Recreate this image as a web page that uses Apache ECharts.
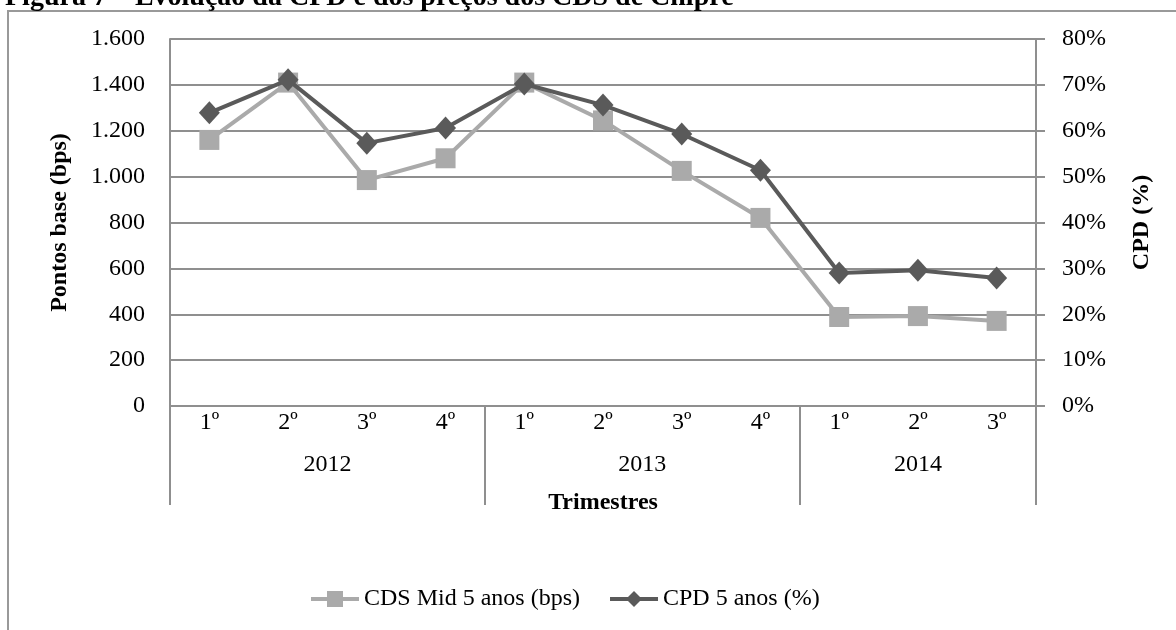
<!DOCTYPE html>
<html>
<head>
<meta charset="utf-8">
<script src="https://cdn.jsdelivr.net/npm/echarts@6/dist/echarts.min.js"></script>
<style>
  html, body { margin: 0; padding: 0; background: #fff; }
  #chart { width: 1176px; height: 630px; }
</style>
</head>
<body>
<div id="chart"></div>
<script>
// Quarter labels and the year groups they belong to
const quarters = ['1º', '2º', '3º', '4º', '1º', '2º', '3º', '4º', '1º', '2º', '3º'];
const years = ['2012', '2013', '2014'];
const quartersPerYear = [4, 4, 3];

// CDS mid 5-year spread, basis points
const cdsMid = [1160, 1410, 985, 1080, 1410, 1245, 1025, 820, 388, 392, 371];
// Cumulative probability of default, 5 years, percent
const cpd = [63.9, 71.1, 57.3, 60.6, 70.2, 65.6, 59.3, 51.4, 29.0, 29.6, 27.9];

// Left axis ticks (bps) and right axis ticks (%)
const bpsMax = 1600, bpsStep = 200;
const pctMax = 80, pctStep = 10;

const FONT = '"Liberation Serif", serif';
const FS = 24;
const GRID_COLOR = '#8f8f8f';
const LIGHT = '#aaaaaa';
const DARK = '#5a5a5a';

// Year separators and label centres on a 0..N quarter scale
const yearBounds = [0];
quartersPerYear.forEach(n => yearBounds.push(yearBounds[yearBounds.length - 1] + n));
const yearCentres = years.map((y, i) => (yearBounds[i] + yearBounds[i + 1]) / 2);

const chart = echarts.init(document.getElementById('chart'), null, { renderer: 'canvas' });

chart.setOption({
  animation: false,
  backgroundColor: '#fff',
  title: {
    text: 'Figura 7 – Evolução da CPD e dos preços dos CDS de Chipre',
    left: 0,
    top: -21,
    textStyle: { fontFamily: FONT, fontWeight: 'bold', fontSize: 28, color: '#000' }
  },
  graphic: [{
    type: 'rect',
    z: -1,
    shape: { x: 8, y: 11, width: 1400, height: 800 },
    style: { fill: 'none', stroke: '#999', lineWidth: 2 }
  }],
  grid: { left: 170, right: 140, top: 39, bottom: 224, containLabel: false },
  legend: {
    bottom: 14,
    left: 304,
    itemWidth: 48,
    itemHeight: 20,
    itemGap: 28,
    lineStyle: { width: 4 },
    textStyle: { fontFamily: FONT, fontSize: FS, color: '#000' },
    data: ['CDS Mid 5 anos (bps)', 'CPD 5 anos (%)']
  },
  xAxis: [
    {
      type: 'category',
      data: quarters,
      position: 'bottom',
      boundaryGap: true,
      axisLine: { show: true, lineStyle: { color: GRID_COLOR, width: 2 } },
      axisTick: { show: false },
      axisLabel: { fontFamily: FONT, fontSize: FS, color: '#000', margin: 5, interval: 0 },
      splitLine: { show: false }
    },
    {
      type: 'value',
      min: 0,
      max: quarters.length,
      position: 'bottom',
      axisLine: { show: false },
      axisTick: {
        show: true,
        customValues: yearBounds,
        length: 99,
        lineStyle: { color: GRID_COLOR, width: 2 }
      },
      axisLabel: {
        show: true,
        customValues: yearCentres,
        formatter: v => {
          const i = yearCentres.indexOf(v);
          return i >= 0 ? years[i] : '';
        },
        fontFamily: FONT, fontSize: FS, color: '#000', margin: 47
      },
      splitLine: { show: false },
      name: 'Trimestres',
      nameLocation: 'middle',
      nameGap: 85,
      nameTextStyle: { fontFamily: FONT, fontWeight: 'bold', fontSize: FS, color: '#000' }
    }
  ],
  yAxis: [
    {
      type: 'value',
      min: 0,
      max: bpsMax,
      interval: bpsStep,
      position: 'left',
      axisLine: { show: true, lineStyle: { color: GRID_COLOR, width: 2 } },
      axisTick: { show: false },
      axisLabel: {
        fontFamily: FONT, fontSize: FS, color: '#000', margin: 25,
        formatter: v => v >= 1000 ? String(v).replace(/(\d)(\d{3})$/, '$1.$2') : String(v)
      },
      splitLine: { show: true, lineStyle: { color: GRID_COLOR, width: 2 } },
      name: 'Pontos base (bps)',
      nameLocation: 'middle',
      nameGap: 98,
      nameRotate: 90,
      nameTextStyle: { fontFamily: FONT, fontWeight: 'bold', fontSize: FS, color: '#000' }
    },
    {
      type: 'value',
      min: 0,
      max: pctMax,
      interval: pctStep,
      position: 'right',
      axisLine: { show: true, lineStyle: { color: GRID_COLOR, width: 2 } },
      axisTick: { show: true, inside: false, length: 9, lineStyle: { color: GRID_COLOR, width: 2 } },
      axisLabel: {
        fontFamily: FONT, fontSize: FS, color: '#000', margin: 26,
        formatter: v => v + '%'
      },
      splitLine: { show: false },
      name: 'CPD (%)',
      nameLocation: 'middle',
      nameGap: 94,
      nameRotate: 90,
      nameTextStyle: { fontFamily: FONT, fontWeight: 'bold', fontSize: FS, color: '#000' }
    }
  ],
  series: [
    {
      name: 'CDS Mid 5 anos (bps)',
      type: 'line',
      xAxisIndex: 0,
      yAxisIndex: 0,
      data: cdsMid,
      symbol: 'rect',
      symbolSize: 20,
      lineStyle: { color: LIGHT, width: 4 },
      itemStyle: { color: LIGHT },
      z: 2
    },
    {
      name: 'CPD 5 anos (%)',
      type: 'line',
      xAxisIndex: 0,
      yAxisIndex: 1,
      data: cpd,
      symbol: 'diamond',
      symbolSize: [21, 23],
      lineStyle: { color: DARK, width: 4 },
      itemStyle: { color: DARK },
      z: 3
    }
  ]
});
</script>
</body>
</html>
